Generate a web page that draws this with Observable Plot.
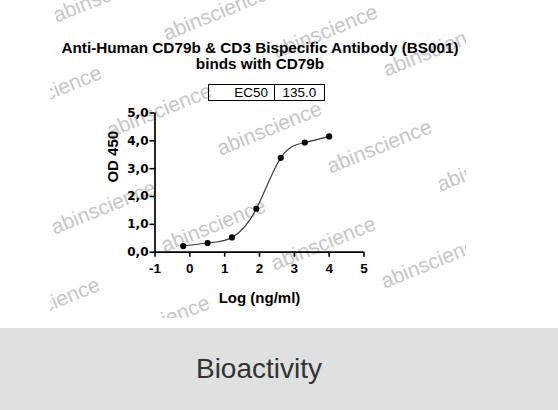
<!DOCTYPE html>
<html>
<head>
<meta charset="utf-8">
<script src="https://cdn.jsdelivr.net/npm/d3@7"></script>
<script src="https://cdn.jsdelivr.net/npm/@observablehq/plot@0.6"></script>
<style>
  body { margin: 0; background: #fff; }
  #wrap { position: relative; width: 558px; height: 410px; overflow: hidden; font-family: "Liberation Sans", Arial, sans-serif; }
  #wm { position: absolute; left: 0; top: 0; }
  #title { position: absolute; left: 0; top: 39.6px; width: 520px; text-align: center; font-weight: bold; font-size: 15.3px; line-height: 16px; color: #000; }
  #ec50 { position: absolute; left: 208px; top: 84px; width: 117px; height: 17px; box-sizing: border-box; border: 1px solid #000; display: flex; font-size: 13.5px; line-height: 15px; color: #000; }
  #ec50 .k { width: 66px; box-sizing: border-box; border-right: 1px solid #000; text-align: right; padding-right: 6px; }
  #ec50 .v { flex: 1; text-align: center; }
  #chart { position: absolute; left: 0; top: 100px; }
  #band { position: absolute; left: 0; top: 328px; width: 558px; height: 82px; background: #dfe0e0; }
  #band span { position: absolute; left: 0; top: 27px; width: 518px; text-align: center; font-size: 28px; line-height: 28px; color: #333; }
</style>
</head>
<body>
<div id="wrap">
  <svg id="wm" width="558" height="328"></svg>
  <div id="title"></div>
  <div id="ec50"><span class="k"></span><span class="v"></span></div>
  <div id="chart"></div>
  <div id="band"><span id="bandText"></span></div>
</div>
<script>
// ---- data ----
const logConc = [-0.19, 0.51, 1.21, 1.91, 2.61, 3.30, 4.00];
const od450   = [0.22, 0.33, 0.53, 1.56, 3.39, 3.94, 4.16];
const xTicks = [-1, 0, 1, 2, 3, 4, 5];
const yTicks = [0, 1, 2, 3, 4, 5];
const titleLines = ["Anti-Human CD79b & CD3 Bispecific Antibody (BS001)", "binds with CD79b"];
const ec50Label = "EC50";
const ec50Value = "135.0";
const xLabel = "Log (ng/ml)";
const yLabel = "OD 450";
const bandLabel = "Bioactivity";
const watermark = "abinscience";

// ---- text blocks ----
const titleEl = document.getElementById("title");
titleLines.forEach((t, i) => {
  if (i) titleEl.appendChild(document.createElement("br"));
  titleEl.appendChild(document.createTextNode(t));
});
document.querySelector("#ec50 .k").textContent = ec50Label;
document.querySelector("#ec50 .v").textContent = ec50Value;
document.getElementById("bandText").textContent = bandLabel;

// ---- watermark tiling (clipped to the image area, as in the reference) ----
const ns = "http://www.w3.org/2000/svg";
const wm = document.getElementById("wm");
const defs = document.createElementNS(ns, "defs");
const cp = document.createElementNS(ns, "clipPath");
cp.setAttribute("id", "wmclip");
const cr = document.createElementNS(ns, "rect");
cr.setAttribute("x", 50); cr.setAttribute("y", 0); cr.setAttribute("width", 416); cr.setAttribute("height", 318);
cp.appendChild(cr); defs.appendChild(cp); wm.appendChild(defs);
const g = document.createElementNS(ns, "g");
g.setAttribute("clip-path", "url(#wmclip)");
wm.appendChild(g);
for (let j = -3; j <= 3; j++) {
  for (let i = -4; i <= 6; i++) {
    const cx = 103 + i * 110 + j * 56, cy = 207 + i * 18 - j * 97;
    if (cx < 0 || cx > 520 || cy < -10 || cy > 335) continue;
    const t = document.createElementNS(ns, "text");
    t.setAttribute("x", cx); t.setAttribute("y", cy);
    t.setAttribute("text-anchor", "middle");
    t.setAttribute("dominant-baseline", "central");
    t.setAttribute("font-family", "Liberation Sans, Arial, sans-serif");
    t.setAttribute("font-size", 21);
    t.setAttribute("fill", "#c6c6c6");
    t.setAttribute("transform", `rotate(-22 ${cx} ${cy})`);
    t.textContent = watermark;
    g.appendChild(t);
  }
}

// ---- chart ----
const data = logConc.map((x, i) => ({x, y: od450[i]}));
const plot = Plot.plot({
  width: 558,
  height: 228,
  marginLeft: 154.5,
  marginRight: 194.5,
  marginTop: 12.5,
  marginBottom: 76.3,
  x: {domain: [-1, 5]},
  y: {domain: [0, 5]},
  style: {background: "transparent", color: "#000", fontFamily: "Liberation Sans, Arial, sans-serif", overflow: "visible"},
  marks: [
    Plot.line(data, {x: "x", y: "y", curve: "natural", stroke: "#333", strokeWidth: 1.1}),
    Plot.dot(data, {x: "x", y: "y", r: 3.1, fill: "#000", stroke: "none"}),
    Plot.ruleY([0], {stroke: "#000", strokeWidth: 1.7}),
    Plot.ruleX([-1], {y1: 0, y2: 5, stroke: "#000", strokeWidth: 1.7}),
    Plot.axisX({ticks: xTicks, tickSize: 5, tickPadding: 6.5, tickFormat: d => String(d), fontSize: 13.5, fontWeight: "bold", strokeWidth: 1.6, label: null}),
    Plot.axisY({ticks: yTicks, tickSize: 5, tickPadding: 1.5, tickFormat: d => d.toFixed(1).replace(".", ","), fontSize: 12, fontWeight: "bold", fontFamily: "DejaVu Sans", strokeWidth: 1.6, label: null}),
    Plot.text([xLabel], {text: d => d, frameAnchor: "bottom", dy: 40.5, lineAnchor: "top", fontSize: 15, fontWeight: "bold"}),
    Plot.text([yLabel], {text: d => d, frameAnchor: "left", rotate: -90, dx: -41.5, fontSize: 15, fontWeight: "bold"})
  ]
});
document.getElementById("chart").appendChild(plot);
</script>
</body>
</html>
